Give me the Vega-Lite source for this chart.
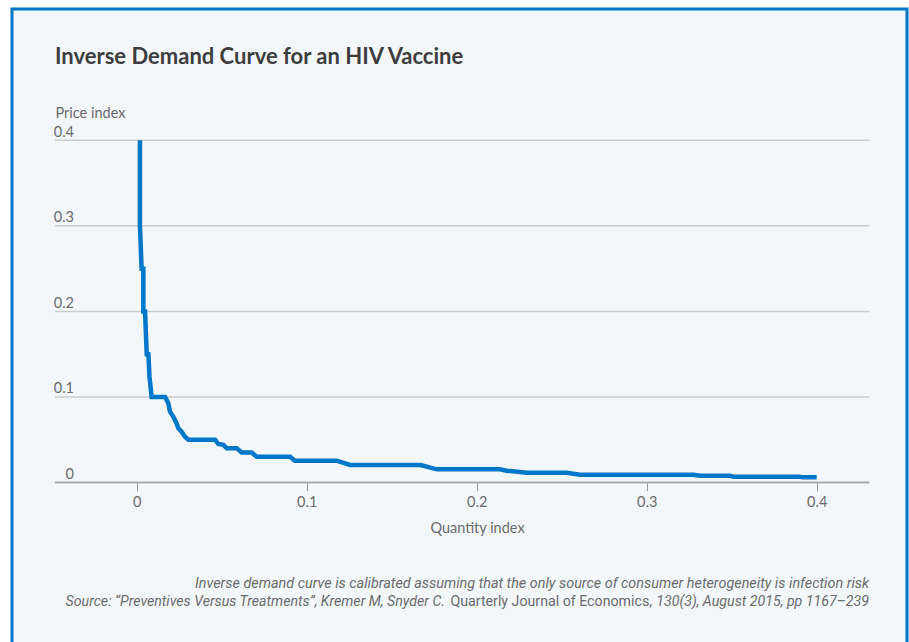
{
  "$schema": "https://vega.github.io/schema/vega-lite/v6.json",
  "autosize": {"type": "none"},
  "padding": {"left": 12, "top": 9, "right": 2, "bottom": 0},
  "width": 895,
  "height": 640,
  "background": "white",
  "title": {
    "text": "Inverse Demand Curve for an HIV Vaccine",
    "anchor": "start",
    "frame": "group",
    "dx": 43,
    "offset": -77,
    "baseline": "alphabetic",
    "font": "Lato",
    "fontSize": 22,
    "fontWeight": "bold",
    "color": "#3d3d3d"
  },
  "config": {
    "view": {"stroke": "#0077c8", "strokeWidth": 3, "fill": "#f3f7fb"},
    "font": "Lato"
  },
  "layer": [
    {
      "data": {"values": [{"g": 0.1}, {"g": 0.2}, {"g": 0.3}, {"g": 0.4}]},
      "mark": {"type": "rule", "color": "#cccccc", "strokeWidth": 1.5},
      "encoding": {
        "y": {
          "field": "g", "type": "quantitative",
          "scale": {"domain": [-0.194623, 0.553478], "nice": false, "zero": false},
          "axis": {
            "values": [0, 0.1, 0.2, 0.3, 0.4], "format": "~g",
            "offset": -61.5, "domain": false, "grid": false, "ticks": false,
            "labelPadding": 0, "labelAlign": "right", "labelBaseline": "alphabetic", "labelOffset": -4,
            "labelFontSize": 14.5, "labelColor": "#6b6b6b", "labelFont": "Lato",
            "title": "Price index", "titleFont": "Lato", "titleAngle": 0, "titleAlign": "left", "titleBaseline": "alphabetic",
            "titleX": -18.5, "titleY": 108, "titleFontSize": 14.5, "titleFontWeight": "normal", "titleColor": "#6b6b6b"
          }
        },
        "x": {
          "datum": -0.048059, "type": "quantitative",
          "scale": {"domain": [-0.073353, 0.453118], "nice": false, "zero": false},
          "axis": {
            "values": [0, 0.1, 0.2, 0.3, 0.4], "format": "~g",
            "offset": -166.5, "domain": false, "grid": false,
            "ticks": true, "tickSize": 8, "tickColor": "#999999", "tickWidth": 1,
            "labelPadding": 5, "labelFontSize": 14.5, "labelColor": "#6b6b6b", "labelFont": "Lato",
            "title": "Quantity index", "titleFont": "Lato", "titleFontSize": 14.5, "titleFontWeight": "normal",
            "titleColor": "#6b6b6b", "titleX": 465, "titleY": 50, "titleBaseline": "alphabetic", "titleAlign": "center"
          }
        },
        "x2": {"datum": 0.430941}
      }
    },
    {
      "data": {"values": [{"g": 0}]},
      "mark": {"type": "rule", "color": "#a9a9a9", "strokeWidth": 2},
      "encoding": {
        "y": {"field": "g", "type": "quantitative"},
        "x": {"datum": -0.048059, "type": "quantitative"},
        "x2": {"datum": 0.430941}
      }
    },
    {
      "data": {"values": [
        {"i": 1, "q": 0.0019, "p": 0.400},
        {"i": 2, "q": 0.0019, "p": 0.300},
        {"i": 3, "q": 0.0029, "p": 0.250},
        {"i": 4, "q": 0.0039, "p": 0.250},
        {"i": 5, "q": 0.0039, "p": 0.200},
        {"i": 6, "q": 0.0049, "p": 0.200},
        {"i": 7, "q": 0.0059, "p": 0.150},
        {"i": 8, "q": 0.0069, "p": 0.150},
        {"i": 9, "q": 0.0075, "p": 0.124},
        {"i": 10, "q": 0.0088, "p": 0.100},
        {"i": 11, "q": 0.0167, "p": 0.100},
        {"i": 12, "q": 0.0186, "p": 0.0926},
        {"i": 13, "q": 0.0196, "p": 0.0828},
        {"i": 14, "q": 0.0215, "p": 0.077},
        {"i": 15, "q": 0.0235, "p": 0.069},
        {"i": 16, "q": 0.0245, "p": 0.0634},
        {"i": 17, "q": 0.0264, "p": 0.0594},
        {"i": 18, "q": 0.0284, "p": 0.0535},
        {"i": 19, "q": 0.0304, "p": 0.0500},
        {"i": 20, "q": 0.0461, "p": 0.0500},
        {"i": 21, "q": 0.0480, "p": 0.0450},
        {"i": 22, "q": 0.0510, "p": 0.0440},
        {"i": 23, "q": 0.0530, "p": 0.0400},
        {"i": 24, "q": 0.0588, "p": 0.0400},
        {"i": 25, "q": 0.0618, "p": 0.0350},
        {"i": 26, "q": 0.0676, "p": 0.0350},
        {"i": 27, "q": 0.0706, "p": 0.0300},
        {"i": 28, "q": 0.0902, "p": 0.0300},
        {"i": 29, "q": 0.0931, "p": 0.0255},
        {"i": 30, "q": 0.1176, "p": 0.0255},
        {"i": 31, "q": 0.1255, "p": 0.0205},
        {"i": 32, "q": 0.1670, "p": 0.0205},
        {"i": 33, "q": 0.1765, "p": 0.0154},
        {"i": 34, "q": 0.2137, "p": 0.0154},
        {"i": 35, "q": 0.2176, "p": 0.0138},
        {"i": 36, "q": 0.2294, "p": 0.0115},
        {"i": 37, "q": 0.2529, "p": 0.0115},
        {"i": 38, "q": 0.2608, "p": 0.0091},
        {"i": 39, "q": 0.3274, "p": 0.0091},
        {"i": 40, "q": 0.3314, "p": 0.0080},
        {"i": 41, "q": 0.3490, "p": 0.0080},
        {"i": 42, "q": 0.3510, "p": 0.0068},
        {"i": 43, "q": 0.3900, "p": 0.0068},
        {"i": 44, "q": 0.3920, "p": 0.0060},
        {"i": 45, "q": 0.4000, "p": 0.0060}
      ]},
      "mark": {"type": "line", "color": "#0077c8", "strokeWidth": 4.5, "strokeJoin": "miter"},
      "encoding": {
        "order": {"field": "i", "type": "quantitative"},
        "x": {"field": "q", "type": "quantitative"},
        "y": {"field": "p", "type": "quantitative"}
      }
    },
    {
      "data": {"values": [{"note": "Inverse demand curve is calibrated assuming that the only source of consumer heterogeneity is infection risk"}]},
      "mark": {"type": "text", "align": "right", "baseline": "alphabetic", "fontStyle": "italic", "fontSize": 14.4, "font": "Roboto", "color": "#6b6b6b"},
      "encoding": {
        "text": {"field": "note"},
        "x": {"datum": 0.4308, "type": "quantitative"},
        "y": {"datum": -0.12367, "type": "quantitative"}
      }
    },
    {
      "data": {"values": [{"note": "Source: “Preventives Versus Treatments”, Kremer M, Snyder C."}]},
      "mark": {"type": "text", "align": "right", "baseline": "alphabetic", "fontStyle": "italic", "fontSize": 14.2, "font": "Roboto", "color": "#6b6b6b"},
      "encoding": {
        "text": {"field": "note"},
        "x": {"datum": 0.18135, "type": "quantitative"},
        "y": {"datum": -0.14401, "type": "quantitative"}
      }
    },
    {
      "data": {"values": [{"note": "Quarterly Journal of Economics,"}]},
      "mark": {"type": "text", "align": "right", "baseline": "alphabetic", "fontSize": 14.2, "font": "Roboto", "color": "#6b6b6b"},
      "encoding": {
        "text": {"field": "note"},
        "x": {"datum": 0.30312, "type": "quantitative"},
        "y": {"datum": -0.14401, "type": "quantitative"}
      }
    },
    {
      "data": {"values": [{"note": "130(3), August 2015, pp 1167–239"}]},
      "mark": {"type": "text", "align": "right", "baseline": "alphabetic", "fontStyle": "italic", "fontSize": 14.2, "font": "Roboto", "color": "#6b6b6b"},
      "encoding": {
        "text": {"field": "note"},
        "x": {"datum": 0.4308, "type": "quantitative"},
        "y": {"datum": -0.14401, "type": "quantitative"}
      }
    }
  ]
}
